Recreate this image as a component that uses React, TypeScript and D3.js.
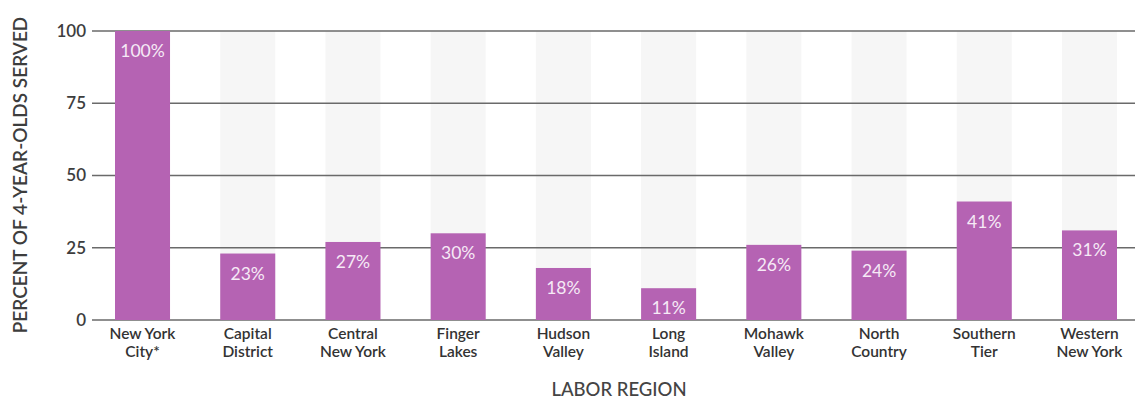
import * as d3 from "d3";

const regions = [
  ["New York", "City*"],
  ["Capital", "District"],
  ["Central", "New York"],
  ["Finger", "Lakes"],
  ["Hudson", "Valley"],
  ["Long", "Island"],
  ["Mohawk", "Valley"],
  ["North", "Country"],
  ["Southern", "Tier"],
  ["Western", "New York"],
];
const served = [100, 23, 27, 30, 18, 11, 26, 24, 41, 31];
const yTicks = [0, 25, 50, 75, 100];

const W = 1135, H = 401;
const FONT = "Lato, 'Open Sans', sans-serif";
const BAR = "#b563b3";

export default function App() {
  const keys = regions.map((r) => r.join(" "));
  const x = d3.scaleBand<string>().domain(keys).range([115, 1117]).paddingInner(0.477).paddingOuter(0);
  const y = d3.scaleLinear([0, 100], [320, 31]);

  return (
    <svg width={W} height={H} style={{ position: "absolute", left: 0, top: 0, background: "#fff" }}>
      {/* faint full-height columns */}
      {keys.map((k) => (
        <rect key={"bg" + k} x={x(k)} y={y(100)} width={x.bandwidth()} height={y(0) - y(100)} fill="#f6f6f6" />
      ))}

      {/* gridlines + ticks */}
      {yTicks.map((t) => (
        <g key={t}>
          <line x1={92} x2={W} y1={y(t)} y2={y(t)} stroke="#6a6a6a" strokeWidth={1.6} />
          <text x={86} y={y(t)} dy="0.35em" textAnchor="end" fontFamily={FONT} fontSize={17}
            fontWeight={600} fill="#3d3d3d">{t}</text>
        </g>
      ))}

      {/* bars */}
      {served.map((v, i) => {
        const k = keys[i];
        const cx = (x(k) ?? 0) + x.bandwidth() / 2;
        return (
          <g key={k}>
            <rect x={x(k)} y={y(v)} width={x.bandwidth()} height={y(0) - y(v)} fill={BAR} />
            <text x={cx} y={y(v) + 26} textAnchor="middle" fontFamily={FONT}
              fontSize={17.5} fill="#f6eaf6">{v}%</text>
            <text x={cx} y={338.5} textAnchor="middle" fontFamily={FONT}
              fontSize={15.5} fontWeight={600} fill="#333">{regions[i][0]}</text>
            <text x={cx} y={357} textAnchor="middle" fontFamily={FONT}
              fontSize={15.5} fontWeight={600} fill="#333">{regions[i][1]}</text>
          </g>
        );
      })}

      {/* axis titles */}
      <text transform="translate(27,175) rotate(-90)" textAnchor="middle" fontFamily={FONT}
        fontSize={19} fontWeight={600} fill="#3d3d3d">PERCENT OF 4-YEAR-OLDS SERVED</text>
      <text x={619} y={396} textAnchor="middle" fontFamily={FONT} fontSize={18.5} fontWeight={500}
        fill="#444">LABOR REGION</text>
    </svg>
  );
}
